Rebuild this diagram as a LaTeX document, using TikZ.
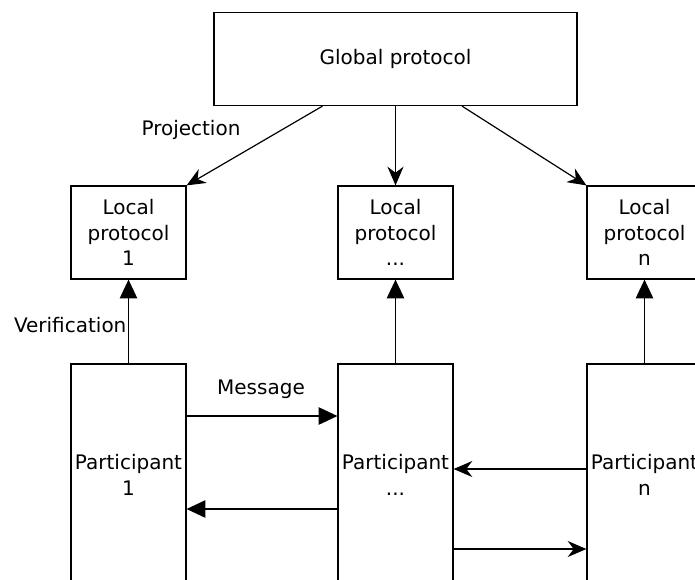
\documentclass[tikz,border=0pt]{standalone}
\usepackage{fontspec}
\setmainfont{DejaVu Sans}
\usetikzlibrary{arrows.meta}

\begin{document}
\begin{tikzpicture}[x=0.75pt,y=-0.75pt,line width=0.9pt,
    every node/.style={font=\fontsize{15}{19}\selectfont},
    box/.style={draw,align=center,inner sep=1pt,minimum width=86.25pt,minimum height=69.75pt},
    partbox/.style={box,minimum height=166.5pt},
    block/.style={-{Triangle[length=14pt,width=13pt]}},
    classic/.style={-{Stealth[length=14pt,width=12pt,inset=4.5pt]}}]
  \useasboundingbox (0,0) rectangle (695,579);
  \clip (0,0) rectangle (695,579);

  \node[box,minimum width=272.25pt] (global) at (395.5,59) {Global protocol};
  \node[box] (local1) at (128.5,232.5) {Local\\protocol\\1};
  \node[box] (localm) at (395.5,232.5) {Local\\protocol\\...};
  \node[box] (localn) at (644.5,232.5) {Local\\protocol\\n};
  \node[partbox] (part1) at (128.5,475) {Participant\\1};
  \node[partbox] (partm) at (395.5,475) {Participant\\...};
  \node[partbox] (partn) at (644.5,475) {Participant\\n};

  \draw[classic] ([xshift=-54.75pt]global.south) -- (local1.north east);
  \draw[classic] (global.south) -- (localm.north);
  \draw[classic] ([xshift=49.9pt]global.south) -- (localn.north west);
  \node (proj) at (191,130) {Projection};

  \draw[block] (part1.north) -- (local1.south);
  \draw[block] (partm.north) -- (localm.south);
  \draw[block] (partn.north) -- (localn.south);
  \node[anchor=east,inner sep=0pt] (verif) at (127,325) {Verification};

  \draw[block] ([yshift=44.25pt]part1.east) -- ([yshift=44.25pt]partm.west);
  \node (msg) at (261,389) {Message};
  \draw[block] ([yshift=-25.5pt]partm.west) -- ([yshift=-25.5pt]part1.east);
  \draw[classic] ([yshift=4.5pt]partn.west) -- ([yshift=4.5pt]partm.east);
  \draw[classic] ([yshift=-55.5pt]partm.east) -- ([yshift=-55.5pt]partn.west);
\end{tikzpicture}
\end{document}
